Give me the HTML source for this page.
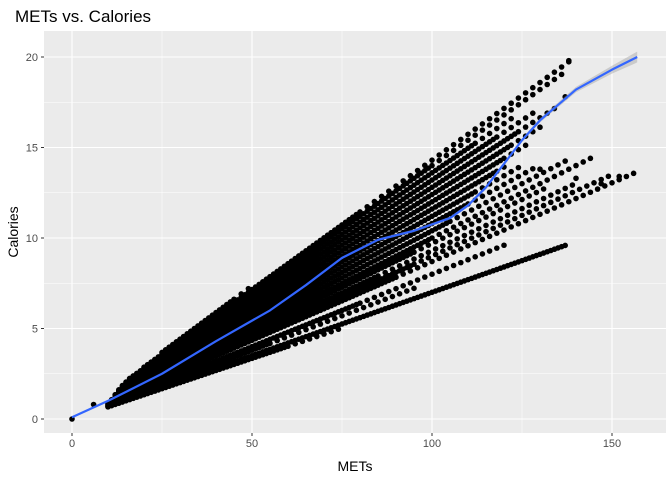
<!DOCTYPE html>
<html><head><meta charset="utf-8"><style>
body{margin:0;background:#fff;}
svg text{font-family:"Liberation Sans",sans-serif;}
</style></head><body>
<svg id="chart" width="672" height="480">
<text x="15" y="22" font-size="17" fill="#000">METs vs. Calories</text>
<rect x="44" y="31" width="622" height="402" fill="#ebebeb"/>
<g id="grid"></g><g id="pts"></g><g id="fit"></g><g id="axes"></g>
<text x="355" y="471" font-size="14" text-anchor="middle">METs</text>
<text transform="translate(18,232) rotate(-90)" font-size="14" text-anchor="middle">Calories</text>
</svg>
<script>
const xTicks=[0,50,100,150];
const yTicks=[0,5,10,15,20];
// rays of points: calories-per-MET slope, MET range (dense part then sparse tail)
const raySlopes=[0.067,0.070,0.076,0.080,0.087,0.090,0.093,0.097,0.100,0.104,0.108,0.112,0.116,0.120,0.124,0.128,0.132,0.136,0.140,0.143,0.147];
const rayMinMet=[10,10,10,10,10,11,11,11,12,12,12,12,13,13,13,14,14,15,16,20,25];
const rayDenseMax=[60,137,55,80,90,95,85,95,100,105,110,112,118,120,122,124,118,112,100,80,45];
const rayMaxMet=[75,137,95,120,157,150,140,132,145,137,128,124,120,126,130,134,128,122,136,138,50];
const extraMet=[0,6,147,152,140,130,137,138];
const extraCal=[0,0.8,13.0,13.4,13.3,13.8,17.8,19.8];
const fitMet=[0,10,25,40,55,65,75,85,95,105,110,115,120,125,130,140,150,157];
const fitCal=[0.1,1.0,2.5,4.3,6.0,7.4,8.9,9.9,10.4,11.1,11.8,12.8,14.1,15.4,16.5,18.2,19.3,20.0];
const fitSe=[0.05,0.05,0.05,0.05,0.05,0.05,0.06,0.07,0.08,0.08,0.09,0.1,0.1,0.1,0.12,0.15,0.22,0.3];

const X=v=>72+v*3.6, Y=v=>419-v*18.1;
const ns="http://www.w3.org/2000/svg";
function mk(t,a,p){const e=document.createElementNS(ns,t);for(const k in a)e.setAttribute(k,a[k]);p.appendChild(e);return e;}
const grid=document.getElementById('grid'),axes=document.getElementById('axes');
[25,75,125].forEach(v=>{const l=mk('line',{x1:X(v),x2:X(v),y1:31,y2:433,stroke:'#fff','stroke-width':0.5},grid);

});
[2.5,7.5,12.5,17.5].forEach(v=>{const l=mk('line',{x1:44,x2:666,y1:Y(v),y2:Y(v),stroke:'#fff','stroke-width':0.5},grid);

});
xTicks.forEach(v=>{const l=mk('line',{x1:X(v),x2:X(v),y1:31,y2:433,stroke:'#fff','stroke-width':1.1},grid);


const t=mk('line',{x1:X(v),x2:X(v),y1:433,y2:436,stroke:'#333'},axes);


const tx=mk('text',{x:X(v),y:447,'font-size':11,fill:'#4d4d4d','text-anchor':'middle'},axes);tx.textContent=v;

});
yTicks.forEach(v=>{const l=mk('line',{x1:44,x2:666,y1:Y(v),y2:Y(v),stroke:'#fff','stroke-width':1.1},grid);


const t=mk('line',{x1:41,x2:44,y1:Y(v),y2:Y(v),stroke:'#333'},axes);


const tx=mk('text',{x:38,y:Y(v)+4,'font-size':11,fill:'#4d4d4d','text-anchor':'end'},axes);tx.textContent=v;

});
const pts=document.getElementById('pts');
raySlopes.forEach((s,i)=>{for(let m=rayMinMet[i];m<=rayMaxMet[i];m+=(m<rayDenseMax[i]?1:2)){
const c=mk('circle',{cx:X(m),cy:Y(m*s),r:2.8,fill:'#000'},pts);

}});
extraMet.forEach((m,i)=>{const c=mk('circle',{cx:X(m),cy:Y(extraCal[i]),r:2.8,fill:'#000'},pts);

});
const fit=document.getElementById('fit');
let up=fitMet.map((m,i)=>X(m)+','+Y(fitCal[i]+fitSe[i]));
let lo=fitMet.map((m,i)=>X(m)+','+Y(fitCal[i]-fitSe[i])).reverse();
const band=mk('polygon',{points:up.concat(lo).join(' '),fill:'#999','fill-opacity':0.4},fit);


const line=mk('polyline',{points:fitMet.map((m,i)=>X(m)+','+Y(fitCal[i])).join(' '),fill:'none',stroke:'#3366ff','stroke-width':2.2,'stroke-linejoin':'round'},fit);


</script>
</body></html>
